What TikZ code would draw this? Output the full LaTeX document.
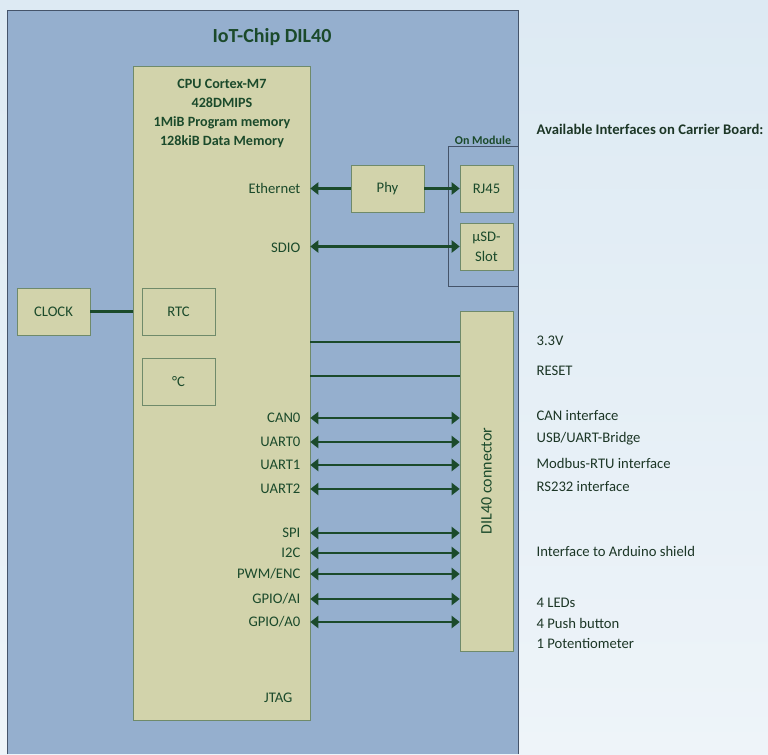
\documentclass[tikz,border=0pt]{standalone}
\usepackage{fontspec}
\setmainfont{Carlito}
\usetikzlibrary{arrows.meta,positioning}
\definecolor{Sky}{HTML}{DDEAF3}
\definecolor{SkyLow}{HTML}{EEF4F9}
\definecolor{Chip}{HTML}{95AFCE}
\definecolor{Khaki}{HTML}{D2D3AB}
\definecolor{Edge}{HTML}{6F8A6A}
\definecolor{Leaf}{HTML}{1B4A2B}
\definecolor{Ink}{HTML}{1C3626}
\definecolor{Frame}{HTML}{45546A}

\tikzset{
  block/.style={draw=Edge,fill=Khaki,text=Leaf,inner sep=0pt,
    font=\fontsize{11}{15}\selectfont},
  lbl/.style={text=Leaf,font=\fontsize{11}{13}\selectfont,inner sep=1pt},
  bus/.style={Leaf,line width=2.2pt},
  tip/.style={-{Triangle[length=6pt,width=9pt]}},
  dbus/.style={bus,{Triangle[length=6pt,width=9pt]}-{Triangle[length=6pt,width=9pt]}},
}

\begin{document}
\begin{tikzpicture}[x=0.75pt,y=-0.75pt]
  \useasboundingbox (0,0) rectangle (768,754);
  \shade[top color=Sky,bottom color=SkyLow] (0,0) rectangle (768,754);
  % chip outline
  \fill[Chip] (7,10) rectangle (518,754);
  \draw[Frame] (7,754) -- (7,10) -- (518,10) -- (518,754);
  \node[lbl,font=\bfseries\fontsize{15}{17}\selectfont] (title) at (272,37) {IoT-Chip DIL40};

  % processor
  \node[block,minimum width=132.75pt,minimum height=490.5pt] (cpu) at (221.5,393) {};
  \node[lbl,align=center,font=\bfseries\fontsize{10.6}{14.25}\selectfont] (cpuinfo) at (222,113.5)
    {CPU Cortex-M7\\428DMIPS\\1MiB Program memory\\128kiB Data Memory};
  \node[block,minimum width=54.75pt,minimum height=35.25pt] (rtc) at (178.5,311.5) {RTC};
  \node[block,minimum width=54.75pt,minimum height=35.25pt] (degc) at (178.5,381.5) {°C};
  \node[block,minimum width=54.75pt,minimum height=35.25pt] (clock) at (53.5,311.5) {CLOCK};
  \draw[bus] (clock.east) -- (cpu.west |- clock.east);

  % ethernet and sd card
  \node[block,minimum width=54.75pt,minimum height=35.25pt] (phy) at (387.5,188.5) {Phy};
  \node[draw=Frame,minimum width=52.5pt,minimum height=105pt] (module) at (483,216) {};
  \node[lbl,font=\bfseries\fontsize{9}{11}\selectfont,above=0pt of module] (modlbl) {On Module};
  \node[block,minimum width=39.75pt,minimum height=35.25pt] (rj45) at (486.5,188.5) {RJ45};
  \node[block,minimum width=39.75pt,minimum height=35.25pt,align=center] (usd) at (486.5,246.5) {µSD-\\Slot};
  \node[lbl,anchor=east] (eth) at (302,188) {Ethernet};
  \node[lbl,anchor=east] (sdio) at (302,248) {SDIO};
  \draw[bus,tip] (phy.west) -- (cpu.east |- phy.west);
  \draw[bus,tip] (phy.east) -- (rj45.west);
  \draw[dbus] (cpu.east |- usd.west) -- (usd.west);

  % connector
  \node[block,rotate=90,minimum width=255pt,minimum height=39.75pt,font=\fontsize{12}{14}\selectfont]
    (dil) at (486.5,481) {DIL40 connector};
  \draw[bus] (cpu.east |- 0,342) -- (dil.north |- 0,342);
  \draw[bus] (cpu.east |- 0,376) -- (dil.north |- 0,376);
  \foreach \yy/\sig [count=\i] in {418/CAN0,442/UART0,465/UART1,489/UART2,533/SPI,553/I2C,
      574/PWM\slash ENC,599/GPIO\slash AI,622/GPIO\slash A0}{
    \node[lbl,anchor=east] (s\i) at (302,\yy) {\sig};
    \draw[dbus] (cpu.east |- s\i) -- (dil.north |- s\i);
  }
  \node[lbl,anchor=east] (jtag) at (294,698) {JTAG};

  % carrier board
  \node[lbl,anchor=west,text=Ink,font=\bfseries\fontsize{11}{13}\selectfont] (avail) at (535,129)
    {Available Interfaces on Carrier Board:};
  \foreach \yy/\txt [count=\i] in {341/3.3V,371/RESET,416/CAN interface,439/USB\slash UART-Bridge,
      463/Modbus-RTU interface,486/RS232 interface,551/Interface to Arduino shield,
      603/4 LEDs,623/4 Push button,643/1 Potentiometer}{
    \node[lbl,anchor=west,text=Ink] (c\i) at (535,\yy) {\txt};
  }
\end{tikzpicture}
\end{document}
